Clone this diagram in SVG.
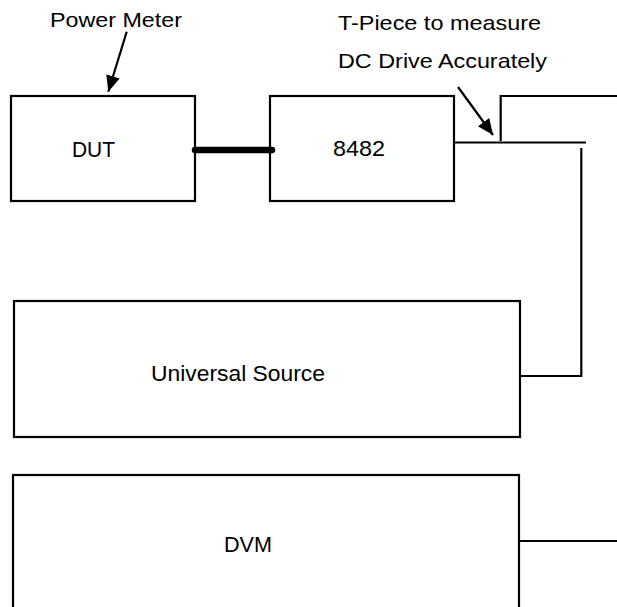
<svg xmlns="http://www.w3.org/2000/svg" width="617" height="607" viewBox="0 0 617 607">
<style>
.box{fill:#fff;stroke:#000;stroke-width:2.2}
.ln{fill:none;stroke:#000;stroke-width:2.2}
.t{font-family:"Liberation Sans",Arial,sans-serif;font-size:21px;fill:#000}
.n{font-size:22.5px}
</style>
<defs>
<marker id="ah" markerUnits="userSpaceOnUse" markerWidth="18" markerHeight="18" viewBox="0 0 18 18" refX="16" refY="9" orient="auto">
<path d="M0,2 L16,9 L0,16 Z" fill="#000"/>
</marker>
</defs>
<rect width="617" height="607" fill="#fff"/>
<g id="labels">
<text class="t" x="50" y="27" textLength="132" lengthAdjust="spacingAndGlyphs">Power Meter</text>
<text class="t" x="338" y="30" textLength="203" lengthAdjust="spacingAndGlyphs">T-Piece to measure</text>
<text class="t" x="338" y="68" textLength="209" lengthAdjust="spacingAndGlyphs">DC Drive Accurately</text>
</g>
<g id="dut">
<rect class="box" x="11" y="96" width="184" height="105"/>
<text class="t n" x="72" y="157" textLength="43" lengthAdjust="spacingAndGlyphs">DUT</text>
</g>
<g id="sensor8482">
<rect class="box" x="270" y="96" width="184" height="105"/>
<text class="t n" x="333" y="156" textLength="52" lengthAdjust="spacingAndGlyphs">8482</text>
</g>
<g id="universal-source">
<rect class="box" x="14" y="301" width="506" height="136"/>
<text class="t n" x="151" y="381" textLength="174" lengthAdjust="spacingAndGlyphs">Universal Source</text>
</g>
<g id="dvm">
<rect class="box" x="13" y="475" width="506" height="150"/>
<text class="t n" x="224" y="552" textLength="48" lengthAdjust="spacingAndGlyphs">DVM</text>
</g>
<g id="connectors">
<line x1="195" y1="150" x2="272" y2="150" stroke="#000" stroke-width="6.5" stroke-linecap="round"/>
<polyline class="ln" points="500.7,141 500.7,96 617,96"/>
<line class="ln" x1="454" y1="142.5" x2="586" y2="142.5"/>
<polyline class="ln" points="581.3,148 581.3,376 520,376"/>
<line class="ln" x1="519" y1="541" x2="617" y2="541"/>
<line class="ln" x1="126.7" y1="31.7" x2="108.3" y2="91.7" stroke-width="1.5" marker-end="url(#ah)"/>
<line class="ln" x1="458" y1="87" x2="493" y2="135" stroke-width="1.5" marker-end="url(#ah)"/>
</g>
</svg>
